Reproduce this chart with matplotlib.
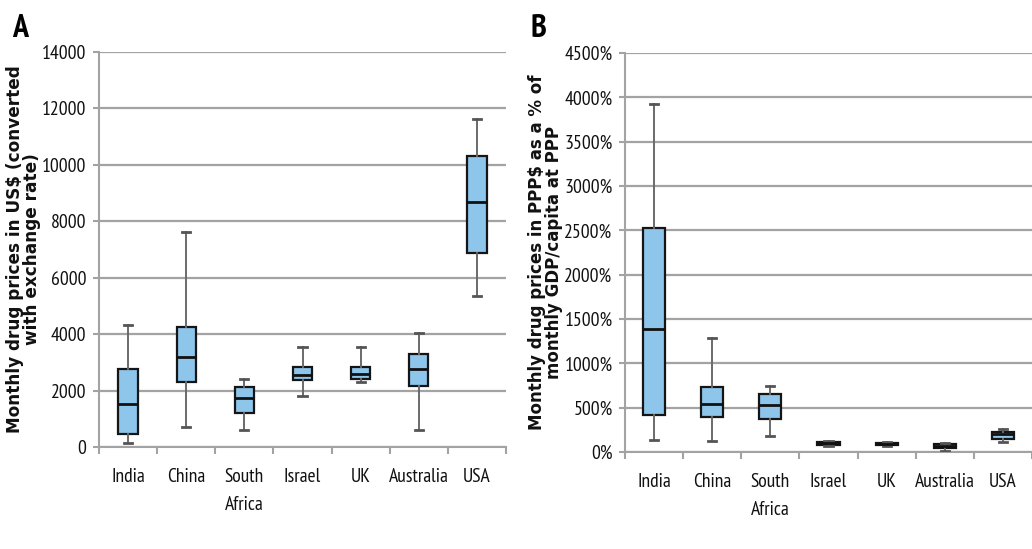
import matplotlib
matplotlib.use("Agg")
import matplotlib.pyplot as plt
from matplotlib.ticker import FixedLocator, FuncFormatter

countries = ["India", "China", "South\nAfrica", "Israel", "UK", "Australia", "USA"]

# Panel A: monthly drug prices in US$ (exchange rate)
a_whislo = [150, 710, 590, 1810, 2310, 590, 5360]
a_q1     = [470, 2310, 1210, 2370, 2400, 2150, 6860]
a_med    = [1510, 3200, 1720, 2540, 2600, 2760, 8700]
a_q3     = [2780, 4260, 2110, 2840, 2840, 3280, 10320]
a_whishi = [4320, 7630, 2400, 3530, 3530, 4050, 11630]
a_ticks = [0, 2000, 4000, 6000, 8000, 10000, 12000, 14000]

# Panel B: monthly drug prices in PPP$ as % of monthly GDP/capita at PPP
b_whislo = [139, 120, 184, 66, 68, 15, 113]
b_q1     = [414, 391, 372, 80, 75, 49, 150]
b_med    = [1387, 541, 534, 97, 86, 72, 203]
b_q3     = [2523, 729, 654, 112, 98, 86, 229]
b_whishi = [3925, 1286, 741, 126, 109, 98, 259]
b_ticks = [0, 500, 1000, 1500, 2000, 2500, 3000, 3500, 4000, 4500]

NARROW = ["PT Sans Narrow", "DejaVu Sans"]
BOX_FILL = "#8EC5EA"
GRID = "#a3a3a3"

fig = plt.figure(figsize=(10.32, 5.49), dpi=100)
axA = fig.add_axes([99/1032, 1-447/549, 407/1032, 395/549])
axB = fig.add_axes([625/1032, 1-452/549, 407/1032, 399/549])


def draw(ax, lo, q1, med, q3, hi, ticks, fmt, width, ylabel, labx, labsize):
    stats = []
    for i in range(len(countries)):
        stats.append(dict(whislo=lo[i], q1=q1[i], med=med[i], q3=q3[i],
                          whishi=hi[i], fliers=[], label=countries[i]))
    pos = list(range(1, len(countries) + 1))
    ax.bxp(stats, positions=pos, widths=width, patch_artist=True,
           showfliers=False,
           boxprops=dict(facecolor=BOX_FILL, edgecolor="#151515", linewidth=1.6),
           medianprops=dict(color="#111111", linewidth=2.0),
           whiskerprops=dict(color="#6a6a6a", linewidth=1.4),
           capprops=dict(color="#555555", linewidth=2.0),
           capwidths=0.14, zorder=3)
    ax.set_xlim(0.5, len(countries) + 0.5)
    ax.set_ylim(ticks[0], ticks[-1])
    ax.yaxis.set_major_locator(FixedLocator(ticks))
    ax.yaxis.set_major_formatter(FuncFormatter(fmt))
    ax.grid(axis="y", color=GRID, linewidth=1.6, zorder=0)
    ax.set_axisbelow(True)
    for s in ("top", "right"):
        ax.spines[s].set_visible(False)
    for s in ("left", "bottom"):
        ax.spines[s].set_color(GRID)
        ax.spines[s].set_linewidth(1.5)
    bounds = [p + 0.5 for p in range(0, len(countries) + 1)]
    ax.xaxis.set_major_locator(FixedLocator(bounds))
    ax.xaxis.set_major_formatter(FuncFormatter(lambda v, p: ""))
    ax.xaxis.set_minor_locator(FixedLocator(pos))
    ax.set_xticklabels(countries, minor=True)
    ax.tick_params(axis="x", which="major", length=5, width=1.5, color=GRID, direction="out")
    ax.tick_params(axis="x", which="minor", length=0, pad=15, labelsize=14)
    ax.tick_params(axis="y", length=4, width=1.5, color=GRID, pad=5, labelsize=14.2)
    for t in ax.get_xticklabels(minor=True) + ax.get_yticklabels():
        t.set_family(NARROW)
        t.set_color("#111111")
    for t in ax.get_xticklabels(minor=True):
        t.set_linespacing(1.75)
        t.set_verticalalignment("top")
    ax.set_ylabel(ylabel, fontsize=labsize, fontweight="bold", family="DejaVu Sans",
                  linespacing=0.95, color="#111111")
    ax.yaxis.set_label_coords(labx, 0.5)
    for line in ax.get_xticklines() + ax.get_yticklines():
        line.set_clip_on(False)


draw(axA, a_whislo, a_q1, a_med, a_q3, a_whishi, a_ticks,
     lambda v, p: f"{int(v)}", 0.33,
     "Monthly drug prices in US$ (converted\nwith exchange rate)", -0.142, 12.2)
draw(axB, b_whislo, b_q1, b_med, b_q3, b_whishi, b_ticks,
     lambda v, p: f"{int(v)}%", 0.38,
     "Monthly drug prices in PPP$ as a % of\nmonthly GDP/capita at PPP", -0.152, 12.0)

fig.text(12/1032, 1-37/549, "A", fontsize=23, fontweight="bold", family=NARROW,
         ha="left", va="baseline")
fig.text(530/1032, 1-37/549, "B", fontsize=23, fontweight="bold", family=NARROW,
         ha="left", va="baseline")

fig.savefig("out.png", dpi=100)
